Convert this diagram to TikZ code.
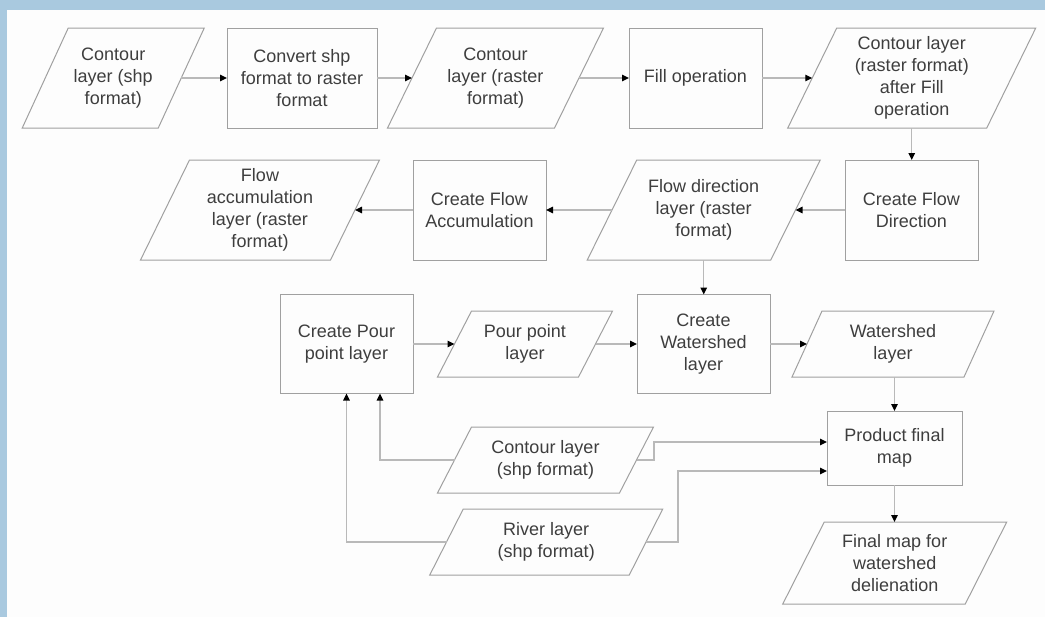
\documentclass[tikz,border=0pt]{standalone}
\usepackage{fontspec}
\setmainfont{Liberation Sans}
\usetikzlibrary{arrows.meta,calc}
\definecolor{frameblue}{RGB}{169,201,223}
\definecolor{paper}{RGB}{253,253,253}
\definecolor{boxgray}{RGB}{160,160,160}
\definecolor{linegray}{RGB}{185,185,185}
\definecolor{txt}{RGB}{62,62,62}
\tikzset{
  boxline/.style={draw=boxgray, line width=0.5pt},
  pg/.style={inner sep=0pt, outer sep=0pt, align=center, text=txt, font=\fontsize{9}{11}\selectfont},
  rb/.style={pg, draw=boxgray, line width=0.5pt},
  conn/.style={draw=linegray, line width=0.7pt, -{Triangle[length=3.5pt,width=3.2pt,color=black]}},
}
% name, cx, cy, w, h, slant, text
\newcommand\mypgram[7]{%
  \node[pg, minimum width=#4*0.5pt, minimum height=#5*0.5pt] (#1) at (#2,#3) {#7};
  \draw[boxline] ($(#1.north west)+(#6/2,0)$) -- ($(#1.north east)+(#6/2,0)$)
     -- ($(#1.south east)+(-#6/2,0)$) -- ($(#1.south west)+(-#6/2,0)$) -- cycle;}
% name, cx, cy, w, h, text
\newcommand\mybox[6]{%
  \node[rb, minimum width=#4*0.5pt, minimum height=#5*0.5pt] (#1) at (#2,#3) {#6};}
\begin{document}
\begin{tikzpicture}[x=0.5pt,y=-0.5pt]
\useasboundingbox (0,0) rectangle (1045,617);
\fill[frameblue] (0,0) rectangle (1045,617);
\fill[paper] (7,10) rectangle (1045,617);

% row 1
\mypgram{P1}{113.25}{78}{136}{100}{46}{Contour\\layer (shp\\format)}
\mybox{R1}{302}{78}{150}{100}{Convert shp\\format to raster\\format}
\mypgram{P2}{495.5}{78}{167}{100}{49}{Contour\\layer (raster\\format)}
\mybox{R2}{695.5}{78}{133}{100}{Fill operation}
\mypgram{P3}{911.75}{78}{199}{100}{49}{Contour layer\\(raster format)\\after Fill\\operation}

% row 2
\mypgram{P4}{260}{210}{190}{100}{49}{Flow\\accumulation\\layer (raster\\format)}
\mybox{R3}{479.5}{210}{133}{100}{Create Flow\\Accumulation}
\mypgram{P5}{703.75}{210}{183.5}{100}{49.5}{Flow direction\\layer (raster\\format)}
\mybox{R4}{911.5}{210}{133}{100}{Create Flow\\Direction}

% row 3
\mybox{R5}{346.5}{344}{133}{99}{Create Pour\\point layer}
\mypgram{P6}{525}{344}{141}{66}{34}{Pour point\\layer}
\mybox{R6}{703.5}{344}{133}{99}{Create\\Watershed\\layer}
\mypgram{P7}{893}{344}{172}{66}{30}{Watershed\\layer}

% lower part
\mybox{R7}{894.5}{448}{135}{74}{Product final\\map}
\mypgram{P8}{545.5}{460}{182}{66}{34}{Contour layer\\(shp format)}
\mypgram{P9}{546.25}{542}{199.5}{66}{33.5}{River layer\\(shp format)}
\mypgram{P10}{894.75}{563}{182.5}{82}{41.5}{Final map for\\watershed\\delienation}

% connectors
\draw[conn] (P1.east) -- (R1.west);
\draw[conn] (R1.east) -- (P2.west);
\draw[conn] (P2.east) -- (R2.west);
\draw[conn] (R2.east) -- (P3.west);
\draw[conn] (P3.south) -- (P3.south |- R4.north);
\draw[conn] (R4.west) -- (P5.east);
\draw[conn] (P5.west) -- (R3.east);
\draw[conn] (R3.west) -- (P4.east);
\draw[conn] (P5.south) -- (P5.south |- R6.north);
\draw[conn] (R5.east) -- (P6.west);
\draw[conn] (P6.east) -- (R6.west);
\draw[conn] (R6.east) -- (P7.west);
\draw[conn] (P7.south -| R7.north) -- (R7.north);
\draw[conn] (R7.south) -- (R7.south |- P10.north);
\draw[conn] (P8.west) -| ($(R5.south)+(33.5,0)$);
\draw[conn] (P9.west) -| (R5.south);
\draw[conn] (P8.east) -- ++(17.5,0) |- ($(R7.west)+(0,-6)$);
\draw[conn] (P9.east) -- ++(32,0) |- ($(R7.west)+(0,23)$);
\end{tikzpicture}
\end{document}
